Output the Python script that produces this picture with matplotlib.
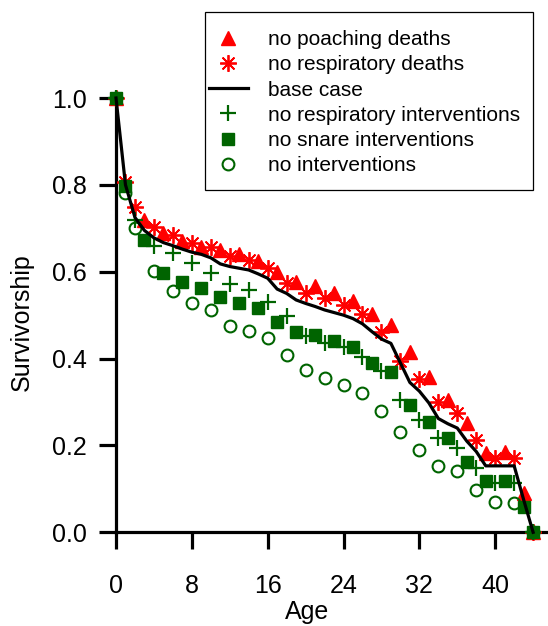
import numpy as np
import matplotlib
matplotlib.use('Agg')
import matplotlib.pyplot as plt
from matplotlib.patches import Rectangle

plt.rcParams['font.family'] = ['Liberation Sans', 'DejaVu Sans']

# base case, every year of age
base_age = list(range(0, 45))
base_surv = [1.0, 0.80, 0.725, 0.695, 0.678, 0.667, 0.660, 0.652, 0.645, 0.640,
             0.632, 0.618, 0.612, 0.608, 0.604, 0.595, 0.585, 0.560, 0.550, 0.535,
             0.527, 0.520, 0.512, 0.506, 0.500, 0.492, 0.480, 0.462, 0.445, 0.435,
             0.390, 0.345, 0.325, 0.298, 0.262, 0.250, 0.240, 0.210, 0.186, 0.153,
             0.153, 0.153, 0.153, 0.075, 0.0]

# no poaching deaths (triangles)
poach_age = [0, 3, 5, 7, 9, 11, 13, 15, 17, 19, 21, 23, 25, 27, 29, 31, 33, 35,
             37, 39, 41, 43, 44]
poach_surv = [1.0, 0.719, 0.689, 0.671, 0.658, 0.650, 0.640, 0.625, 0.600, 0.577,
              0.566, 0.552, 0.532, 0.502, 0.477, 0.414, 0.358, 0.305, 0.251, 0.182,
              0.186, 0.090, 0.0]

# no respiratory deaths (asterisks)
resp_age = [0, 1, 2, 4, 6, 8, 10, 12, 14, 16, 18, 20, 22, 24, 26, 28, 30, 32, 34,
            36, 38, 40, 42, 44]
resp_surv = [1.0, 0.807, 0.748, 0.703, 0.685, 0.667, 0.658, 0.636, 0.627, 0.608,
             0.575, 0.550, 0.539, 0.523, 0.502, 0.462, 0.395, 0.353, 0.301, 0.274,
             0.213, 0.170, 0.170, 0.0]

# no respiratory interventions (plus)
noresp_age = [0, 2, 4, 6, 8, 10, 12, 14, 16, 18, 20, 22, 24, 26, 28, 30, 32, 34,
              36, 38, 40, 42, 44]
noresp_surv = [1.0, 0.718, 0.660, 0.643, 0.621, 0.596, 0.571, 0.557, 0.531, 0.498,
               0.452, 0.437, 0.427, 0.404, 0.372, 0.305, 0.259, 0.217, 0.193, 0.147,
               0.113, 0.113, 0.0]

# no snare interventions (squares)
snare_age = [0, 1, 3, 5, 7, 9, 11, 13, 15, 17, 19, 21, 23, 25, 27, 29, 31, 33,
             35, 37, 39, 41, 43, 44]
snare_surv = [1.0, 0.798, 0.673, 0.597, 0.577, 0.562, 0.542, 0.527, 0.517, 0.485,
              0.462, 0.454, 0.441, 0.427, 0.389, 0.370, 0.293, 0.255, 0.217, 0.163,
              0.117, 0.117, 0.059, 0.0]

# no interventions (open circles)
noint_age = [0, 1, 2, 4, 6, 8, 10, 12, 14, 16, 18, 20, 22, 24, 26, 28, 30, 32, 34,
             36, 38, 40, 42, 44]
noint_surv = [1.0, 0.781, 0.700, 0.601, 0.556, 0.527, 0.511, 0.475, 0.463, 0.447,
              0.408, 0.374, 0.356, 0.339, 0.320, 0.280, 0.230, 0.190, 0.153, 0.140,
              0.097, 0.069, 0.068, 0.0]

red = '#ff0000'
green = '#006400'

W, H = 548, 626
fig = plt.figure(figsize=(W / 100, H / 100), dpi=100)
ax = fig.add_axes([116 / W, 93.7 / H, 432 / W, 434.3 / H])

h_tri, = ax.plot(poach_age, poach_surv, ls='none', marker='^', ms=10.5, color=red,
                 mec=red, clip_on=False, zorder=3)
h_ast, = ax.plot(resp_age, resp_surv, ls='none', marker=(8, 2, 0), ms=12, mew=1.3,
                 color=red, clip_on=False, zorder=3)
h_plus, = ax.plot(noresp_age, noresp_surv, ls='none', marker='+', ms=12, mew=1.6,
                  color=green, clip_on=False, zorder=3)
h_sq, = ax.plot(snare_age, snare_surv, ls='none', marker='s', ms=8, color=green,
                mec=green, clip_on=False, zorder=3)
h_circ, = ax.plot(noint_age, noint_surv, ls='none', marker='o', ms=8.5, mfc='none',
                  mec=green, mew=1.5, clip_on=False, zorder=3)
h_base, = ax.plot(base_age, base_surv, color='k', lw=2.3, clip_on=False, zorder=4)

ax.set_xlim(0, 432 / 9.48)
ax.set_ylim(0, 1.0)
ax.set_xticks([0, 8, 16, 24, 32, 40])
ax.set_yticks([0.0, 0.2, 0.4, 0.6, 0.8, 1.0])
ax.set_yticklabels(['0.0', '0.2', '0.4', '0.6', '0.8', '1.0'])
for s in ['top', 'right']:
    ax.spines[s].set_visible(False)
for s in ['left', 'bottom']:
    ax.spines[s].set_linewidth(2.3)
ax.tick_params(axis='both', direction='out', length=12, width=2.3, labelsize=18)
ax.tick_params(axis='x', pad=18)
ax.tick_params(axis='y', pad=9)

ax.set_xlabel('Age', fontsize=18, labelpad=0)
ax.xaxis.set_label_coords((307 - 116) / 432, -(600 - 532.3) / 434.3)
ax.set_ylabel('Survivorship', fontsize=18)
ax.yaxis.set_label_coords(-(116 - 34) / 432, (532.3 - 322) / 434.3)

# legend frame drawn separately so it sits where the original box does
fig.patches.append(Rectangle((205 / W, 1 - 190 / H), (533 - 205) / W, (190 - 11.7) / H,
                             transform=fig.transFigure, fill=False, ec='k', lw=0.9))
fig.legend([h_tri, h_ast, h_base, h_plus, h_sq, h_circ],
           ['no poaching deaths', 'no respiratory deaths', 'base case',
            'no respiratory interventions', 'no snare interventions', 'no interventions'],
           loc='upper left', bbox_to_anchor=(209 / W, 1 - 30 / H), frameon=False,
           fontsize=15, borderpad=0, borderaxespad=0, handlelength=1.87,
           handletextpad=0.95, labelspacing=0.3)

fig.savefig('out.png', dpi=100)
